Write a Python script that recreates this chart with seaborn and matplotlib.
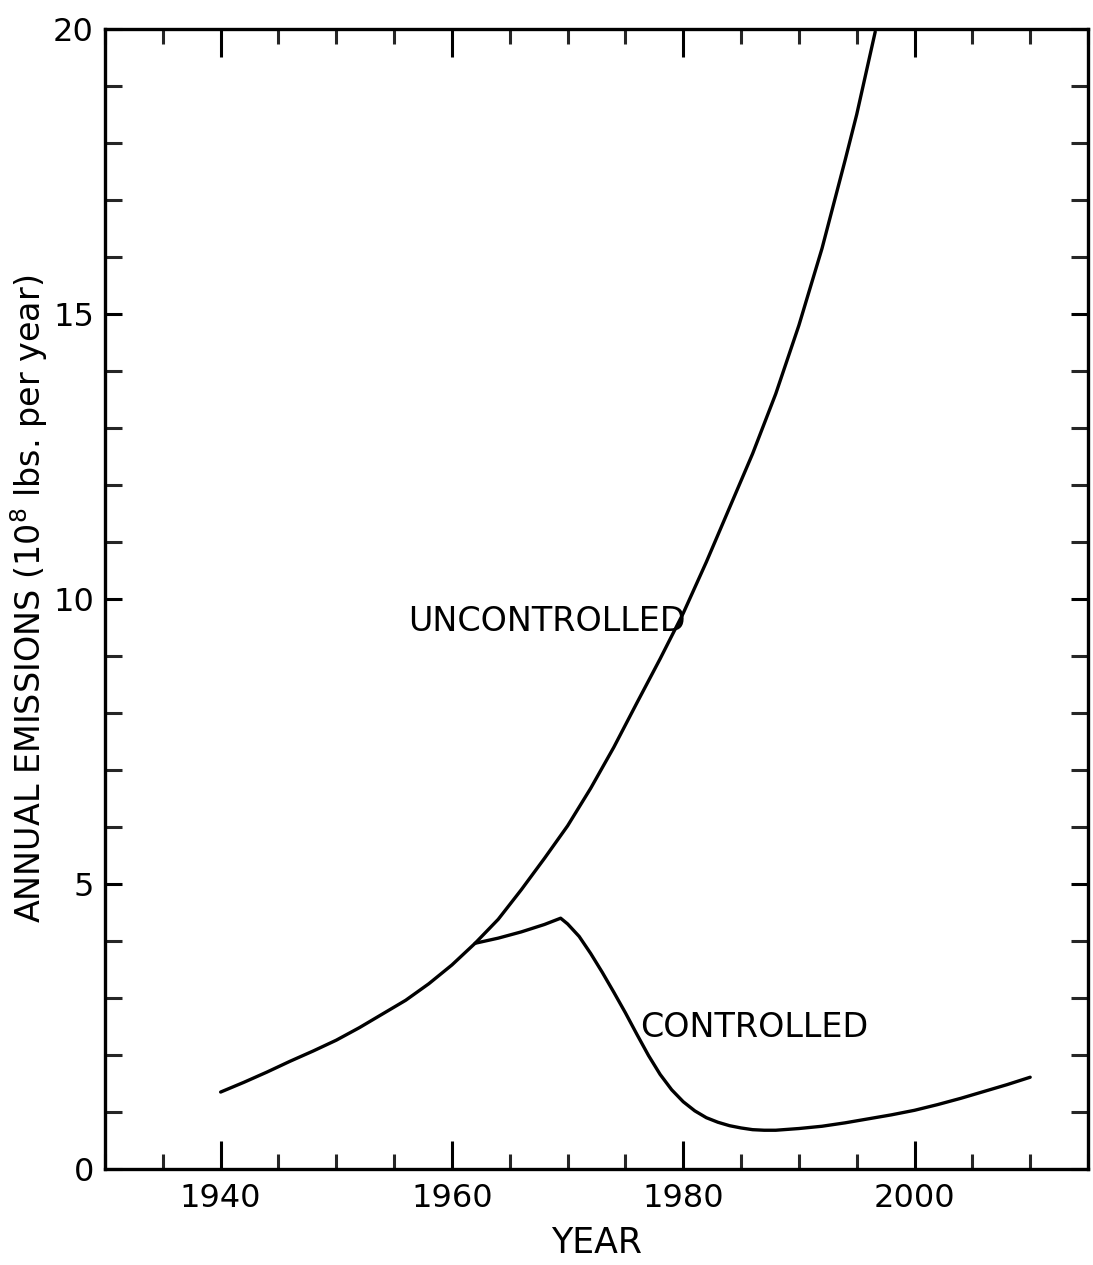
import numpy as np
import pandas as pd
import matplotlib
matplotlib.use("Agg")
import matplotlib.pyplot as plt
from matplotlib.ticker import MultipleLocator
import seaborn as sns

# --- data ---
unc_years = [1940, 1942, 1944, 1946, 1948, 1950, 1952, 1954, 1956, 1958, 1960, 1962,
             1964, 1966, 1968, 1970, 1972, 1974, 1976, 1978, 1980, 1982, 1984, 1986,
             1988, 1990, 1992, 1994, 1995, 1996.6]
unc_values = [1.35, 1.52, 1.70, 1.89, 2.07, 2.26, 2.48, 2.72, 2.96, 3.25, 3.58, 3.96,
              4.38, 4.90, 5.45, 6.02, 6.68, 7.40, 8.18, 8.95, 9.75, 10.65, 11.60, 12.55,
              13.60, 14.80, 16.15, 17.70, 18.50, 19.95]

con_years = [1962, 1964, 1966, 1968, 1969.4, 1970, 1971, 1972, 1973, 1974, 1975,
             1976, 1977, 1978, 1979, 1980, 1981, 1982, 1983, 1984, 1985, 1986, 1987,
             1988, 1990, 1992, 1994, 1996, 1998, 2000, 2002, 2004, 2006, 2008, 2010]
con_values = [3.96, 4.05, 4.16, 4.29, 4.40, 4.30, 4.08, 3.78, 3.45, 3.10, 2.74,
              2.36, 1.99, 1.66, 1.39, 1.18, 1.02, 0.90, 0.82, 0.76, 0.72, 0.69, 0.68,
              0.68, 0.71, 0.75, 0.81, 0.88, 0.95, 1.03, 1.13, 1.24, 1.36, 1.48, 1.61]

x_ticklabels = ["1940", "1960", "1980", "2000"]
y_ticklabels = ["0", "5", "10", "15", "20"]

label_unc = "UNCONTROLLED"
label_con = "CONTROLLED"
xlabel = "YEAR"
ylabel = "ANNUAL EMISSIONS (10$^8$ lbs. per year)"

# --- styling ---
sns.set_theme(style="ticks")
plt.rcParams['font.family'] = ['DejaVu Sans']
plt.rcParams['mathtext.fontset'] = 'dejavusans'

df_unc = pd.DataFrame({"year": unc_years, "value": unc_values})
df_con = pd.DataFrame({"year": con_years, "value": con_values})

fig = plt.figure(figsize=(10.93, 12.65), dpi=100)
ax = fig.add_axes([105 / 1093, (1265 - 1169) / 1265, (1088 - 105) / 1093, (1169 - 29) / 1265])

sns.lineplot(data=df_unc, x="year", y="value", ax=ax, color="black", lw=2.4,
             estimator=None, sort=False)
sns.lineplot(data=df_con, x="year", y="value", ax=ax, color="black", lw=2.4,
             estimator=None, sort=False)

ax.set_xlim(1930, 2015)
ax.set_ylim(0, 20)

ax.set_xticks([int(t) for t in x_ticklabels])
ax.set_xticklabels(x_ticklabels)
ax.xaxis.set_minor_locator(MultipleLocator(5))
ax.set_yticks([int(t) for t in y_ticklabels])
ax.set_yticklabels(y_ticklabels)
ax.yaxis.set_minor_locator(MultipleLocator(1))

for sp in ax.spines.values():
    sp.set_linewidth(2.4)
    sp.set_color("black")
    sp.set_visible(True)

ax.tick_params(axis="x", which="major", direction="in", length=20, width=2.2,
               top=True, bottom=True, labelsize=23, pad=10, colors="black")
ax.tick_params(axis="x", which="minor", direction="in", length=11, width=2.2,
               top=True, bottom=True)
ax.tick_params(axis="y", which="major", direction="in", length=12, width=2.2,
               left=True, right=True, labelsize=23, pad=8, colors="black")
ax.tick_params(axis="y", which="minor", direction="in", length=12, width=2.2,
               left=True, right=True)

ax.set_xlabel(xlabel, fontsize=25, color="black")
ax.set_ylabel(ylabel, fontsize=24, color="black")
ax.xaxis.set_label_coords(0.5, -0.050)
ax.yaxis.set_label_coords(-0.056, 0.5)

ax.text(1956.2, 9.6, label_unc, fontsize=24, ha="left", va="center", color="black")
ax.text(1976.3, 2.49, label_con, fontsize=24, ha="left", va="center", color="black")

ax.grid(False)
fig.savefig("out.png", dpi=100, facecolor="white")
